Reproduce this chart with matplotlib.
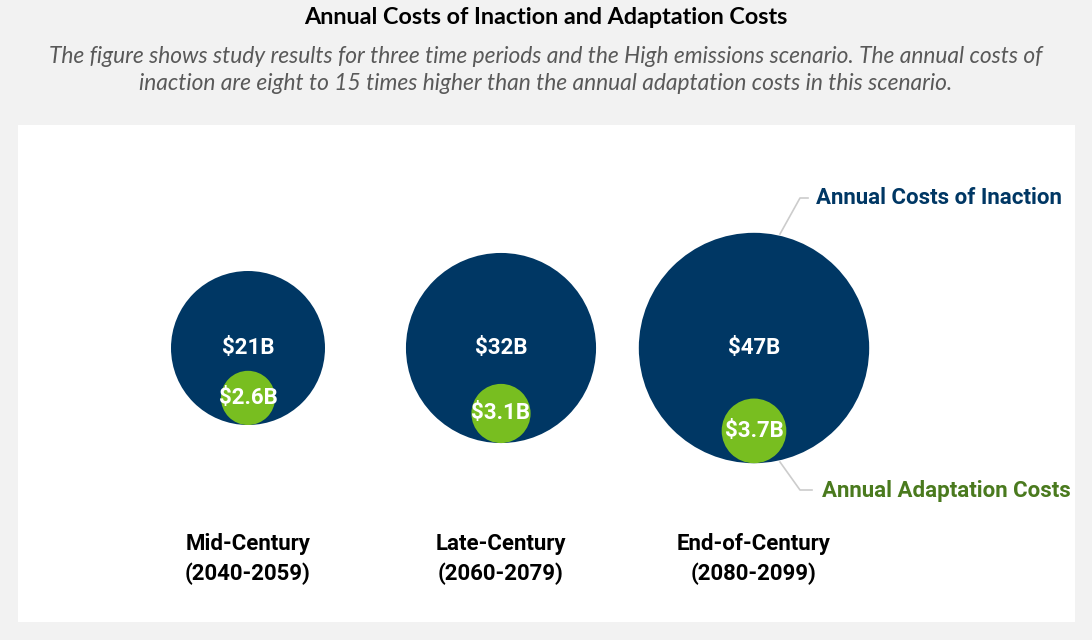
import matplotlib.pyplot as plt
from matplotlib.patches import Circle, Rectangle
import numpy as np

periods = ['Mid-Century\n(2040-2059)', 'Late-Century\n(2060-2079)', 'End-of-Century\n(2080-2099)']
inaction = [21, 32, 47]
adaptation = [2.6, 3.1, 3.7]
inaction_labels = ['$21B', '$32B', '$47B']
adaptation_labels = ['$2.6B', '$3.1B', '$3.7B']

navy = '#003764'
green = '#78be20'

fig = plt.figure(figsize=(10.92, 6.4), dpi=100, facecolor='#f2f2f2')
ax = fig.add_axes([0, 0, 1, 1])
ax.set_xlim(0, 1092)
ax.set_ylim(640, 0)
ax.set_aspect('equal')
ax.axis('off')

# white panel
ax.add_patch(Rectangle((18, 125), 1057, 497, facecolor='white', edgecolor='none', zorder=0))

ax.text(546, 18, 'Annual Costs of Inaction and Adaptation Costs', ha='center', va='center',
        fontsize=16.8, fontweight='bold', family='Lato', color='black')
ax.text(546, 70, 'The figure shows study results for three time periods and the High emissions scenario. The annual costs of\n'
        'inaction are eight to 15 times higher than the annual adaptation costs in this scenario.',
        ha='center', va='center', fontsize=16.4, style='italic', family='Lato', color='#595959',
        linespacing=1.3)

k = 77 / np.sqrt(21)
xs = [248, 501, 754]
cy = 348
for i, x in enumerate(xs):
    R = k * np.sqrt(inaction[i])
    r = k * np.sqrt(adaptation[i])
    ax.add_patch(Circle((x, cy), R, facecolor=navy, edgecolor='none', zorder=2))
    gy = cy + R - r
    ax.add_patch(Circle((x, gy), r, facecolor=green, edgecolor='none', zorder=3))
    ax.text(x, cy, inaction_labels[i], ha='center', va='center', color='white',
            fontsize=16, fontweight='bold', family='Roboto', zorder=4)
    ax.text(x, gy, adaptation_labels[i], ha='center', va='center', color='white',
            fontsize=16, fontweight='bold', family='Roboto', zorder=4)
    ax.text(x, 559, periods[i], ha='center', va='center', color='black',
            fontsize=16, fontweight='bold', family='Roboto', linespacing=1.45)

# leader lines
ax.plot([780, 800, 808], [234, 198, 198], color='#cccccc', lw=1.2, zorder=1)
ax.text(816, 198, 'Annual Costs of Inaction', ha='left', va='center', color=navy,
        fontsize=16, fontweight='bold', family='Roboto')
ax.plot([780, 800, 812], [462, 490, 490], color='#cccccc', lw=1.2, zorder=1)
ax.text(822, 491, 'Annual Adaptation Costs', ha='left', va='center', color='#4a7a1e',
        fontsize=16, fontweight='bold', family='Roboto')

fig.savefig('out.png', dpi=100, facecolor=fig.get_facecolor())
